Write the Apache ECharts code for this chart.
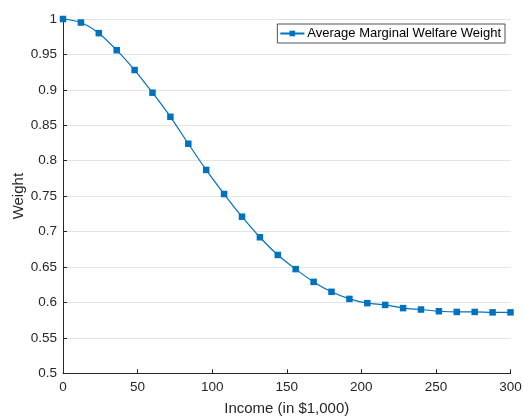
<!DOCTYPE html>
<html>
<head>
<meta charset="utf-8">
<script src="https://cdn.jsdelivr.net/npm/echarts@6/dist/echarts.min.js"></script>
<style>
  html, body { margin: 0; padding: 0; background: #fff; }
  #chart { width: 523px; height: 416px; }
</style>
</head>
<body>
<div id="chart"></div>
<script>
// Income levels (in $1,000) and the average marginal welfare weight at each
const incomes = [0, 12, 24, 36, 48, 60, 72, 84, 96, 108, 120, 132, 144, 156, 168,
                 180, 192, 204, 216, 228, 240, 252, 264, 276, 288, 300];
const weights = [1.000, 0.995, 0.980, 0.956, 0.928, 0.896, 0.862, 0.824, 0.787, 0.753,
                 0.721, 0.692, 0.667, 0.647, 0.629, 0.615, 0.605, 0.599, 0.5965, 0.592,
                 0.590, 0.5876, 0.5866, 0.5866, 0.586, 0.586];
const seriesName = 'Average Marginal Welfare Weight';

const axisColor = '#262626';
const lineColor = '#0072BD';
const font = 'Liberation Sans, Arial, Helvetica, sans-serif';

const chart = echarts.init(document.getElementById('chart'));
chart.setOption({
  animation: false,
  backgroundColor: '#fff',
  grid: {
    left: 63, right: 12.5, top: 19, bottom: 42.7,
    containLabel: false, outerBoundsMode: 'none'
  },
  legend: {
    data: [seriesName],
    right: 18,
    top: 24,
    orient: 'vertical',
    backgroundColor: '#fff',
    borderColor: axisColor,
    borderWidth: 0.8,
    borderRadius: 0,
    padding: [3, 4, 3, 2],
    itemWidth: 24,
    itemHeight: 7,
    itemGap: 0,
    textStyle: { fontFamily: font, fontSize: 13, color: '#000', padding: [0, 0, 0, -2] }
  },
  xAxis: {
    type: 'value',
    min: 0, max: 300, interval: 50,
    name: 'Income (in $1,000)',
    nameLocation: 'middle',
    nameGap: 28,
    nameMoveOverlap: false,
    nameTextStyle: { fontFamily: font, fontSize: 15, color: axisColor },
    axisLine: { show: true, lineStyle: { color: axisColor, width: 1 } },
    axisTick: { show: true, inside: true, length: 4, lineStyle: { color: axisColor } },
    axisLabel: { fontFamily: font, fontSize: 13.5, color: axisColor, margin: 7 },
    splitLine: { show: false }
  },
  yAxis: {
    type: 'value',
    min: 0.5, max: 1, interval: 0.05,
    name: 'Weight',
    nameLocation: 'middle',
    nameGap: 36.5,
    nameMoveOverlap: false,
    nameTextStyle: { fontFamily: font, fontSize: 15, color: axisColor },
    axisLine: { show: true, lineStyle: { color: axisColor, width: 1 } },
    axisTick: { show: true, inside: true, length: 4, lineStyle: { color: axisColor } },
    axisLabel: {
      fontFamily: font, fontSize: 13.5, color: axisColor, margin: 6,
      formatter: v => String(parseFloat(v.toFixed(2)))
    },
    splitLine: { show: true, lineStyle: { color: '#e3e3e3', width: 1 } }
  },
  series: [{
    name: seriesName,
    type: 'line',
    data: incomes.map((x, i) => [x, weights[i]]),
    smooth: 0.3,
    symbol: 'rect',
    symbolSize: 6.5,
    showAllSymbol: true,
    lineStyle: { color: lineColor, width: 1.2 },
    itemStyle: { color: lineColor, borderColor: lineColor, borderWidth: 0 },
    clip: false
  }]
});
</script>
</body>
</html>
